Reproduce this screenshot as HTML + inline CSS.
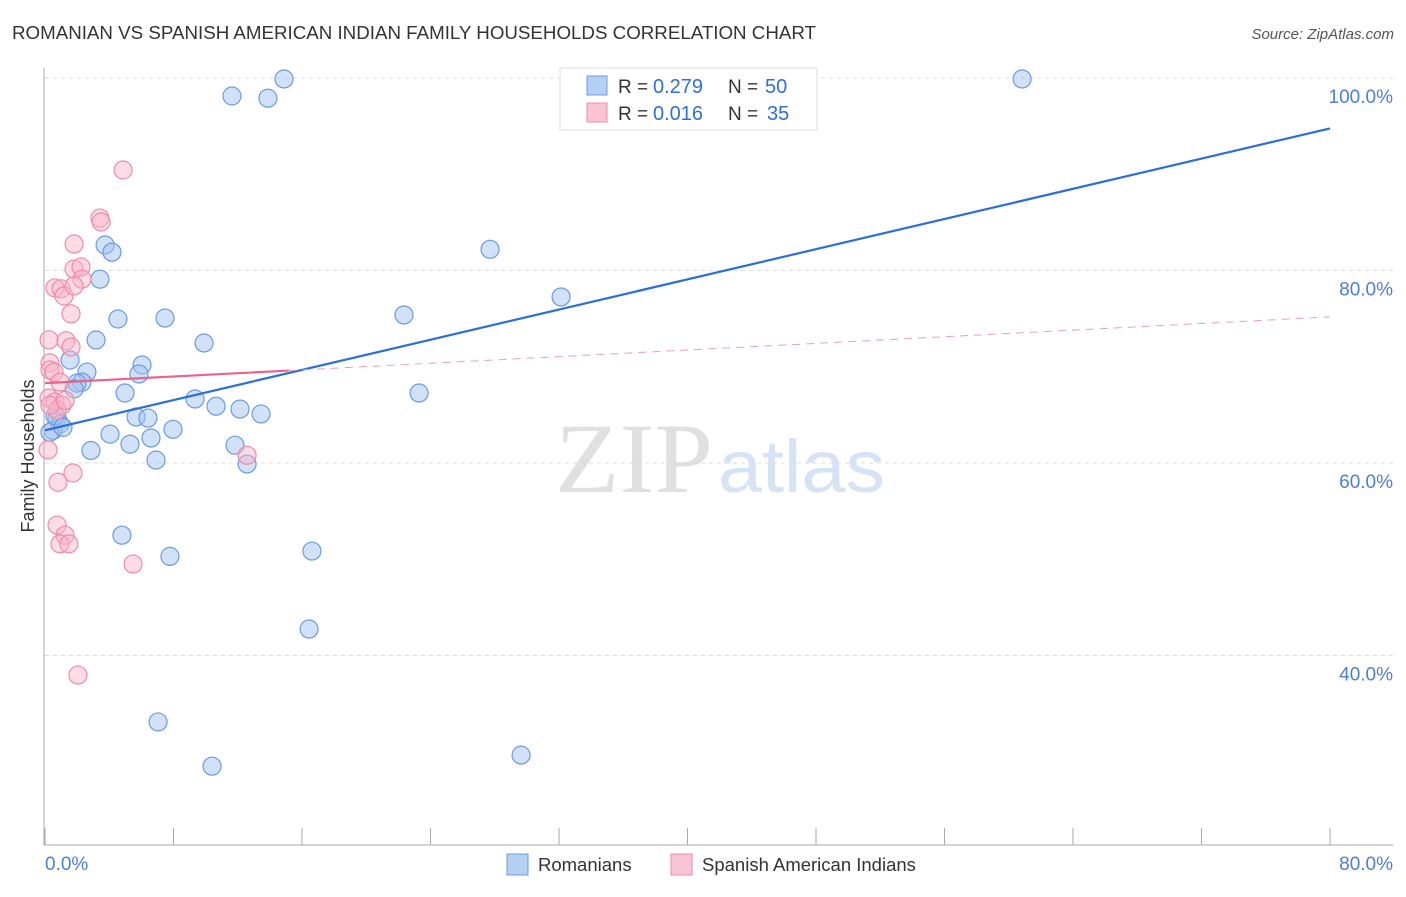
<!DOCTYPE html>
<html><head><meta charset="utf-8"><style>
body{margin:0;background:#fff;font-family:"Liberation Sans",sans-serif;}
svg text{font-family:"Liberation Sans",sans-serif;}
</style></head><body>
<svg id="c" width="1406" height="892" xmlns="http://www.w3.org/2000/svg">
<text x="12" y="39" font-size="18" fill="#333" textLength="804" lengthAdjust="spacingAndGlyphs">ROMANIAN VS SPANISH AMERICAN INDIAN FAMILY HOUSEHOLDS CORRELATION CHART</text>
<text x="1394" y="39" font-size="15" fill="#555" font-style="italic" text-anchor="end">Source: ZipAtlas.com</text>
<text x="555" y="492" font-size="100" fill="#e0e0e0" textLength="158" lengthAdjust="spacingAndGlyphs" style="font-family:'Liberation Serif',serif">ZIP</text>
<text x="718" y="492" font-size="74" fill="#d6e3f5" textLength="167" lengthAdjust="spacingAndGlyphs">atlas</text>
<text transform="translate(34,456) rotate(-90)" font-size="18" fill="#333" text-anchor="middle">Family Households</text>
<g id="grid"></g><g id="marks"></g>
<g>
<rect x="560" y="68" width="257" height="62" fill="#fff" stroke="#ddd"/>
<rect x="587" y="76" width="20" height="19" fill="#b5d0f2" stroke="#6a9be0"/>
<rect x="587" y="103" width="20" height="19" fill="#f9c4d4" stroke="#f08aa8"/>
<text x="618" y="93" font-size="19" fill="#333">R =</text>
<text x="653" y="93" font-size="20" fill="#2f6fd6">0.279</text>
<text x="728" y="93" font-size="19" fill="#333">N =</text>
<text x="765" y="93" font-size="20" fill="#2f6fd6">50</text>
<text x="618" y="120" font-size="19" fill="#333">R =</text>
<text x="653" y="120" font-size="20" fill="#2f6fd6">0.016</text>
<text x="728" y="120" font-size="19" fill="#333">N =</text>
<text x="767" y="120" font-size="20" fill="#2f6fd6">35</text>
</g>
<g>
<rect x="507" y="854" width="21" height="21" fill="#b5d0f2" stroke="#6a9be0"/>
<text x="538" y="871" font-size="18.5" fill="#333">Romanians</text>
<rect x="671" y="854" width="21" height="21" fill="#f9c4d4" stroke="#f08aa8"/>
<text x="702" y="871" font-size="18.5" fill="#333">Spanish American Indians</text>
</g>
</svg>
<script>
const blueX=[14.88,11.64,13.88,60.83,3.74,4.17,27.71,3.42,32.13,4.54,7.47,22.35,3.18,9.90,1.56,6.04,5.85,2.61,2.30,1.99,1.81,4.98,23.29,9.34,10.65,12.14,13.45,5.67,6.41,0.75,0.93,0.50,0.31,7.97,4.05,6.60,5.29,11.83,2.86,6.91,12.58,4.79,7.78,16.62,16.44,7.04,10.40,29.64,0.62,1.12];
const blueY=[99.9,98.13,97.9,99.9,82.65,81.9,82.2,79.1,77.25,74.96,75.06,75.38,72.78,72.47,70.7,70.18,69.25,69.45,68.4,68.3,67.7,67.27,67.27,66.65,65.9,65.6,65.1,64.78,64.67,64.67,64.05,63.4,63.2,63.5,63.0,62.6,61.95,61.85,61.3,60.3,59.9,52.5,50.3,50.85,42.75,33.1,28.5,29.65,64.9,63.7];
const pinkX=[4.86,3.42,3.49,1.81,1.81,2.24,2.30,0.62,1.00,1.18,1.81,1.62,0.25,1.31,1.62,0.31,0.31,0.56,0.93,0.25,0.62,1.06,0.75,0.19,1.74,0.81,0.75,1.25,0.93,1.49,5.48,2.05,12.58,0.31,1.25];
const pinkY=[90.44,85.45,85.04,82.75,80.15,80.36,79.1,78.2,78.1,77.35,78.4,75.5,72.8,72.7,72.05,70.4,69.66,69.45,68.4,66.75,66.34,66.0,65.5,61.35,58.96,58.0,53.55,52.5,51.6,51.6,49.5,37.97,60.8,66.0,66.5];
const blueTrend=[63.4,0.392];
const pinkTrend=[68.3,0.086];
const yTicks=[100,80,60,40];
const xTickLabels=["0.0%","80.0%"];
const NS="http://www.w3.org/2000/svg";
const sx=v=>45+v*1285/80, sy=v=>78+(100-v)*9.625;
function mk(t,a,p){const e=document.createElementNS(NS,t);for(const k in a)e.setAttribute(k,a[k]);p.appendChild(e);return e;}
const g=document.getElementById('grid'), m=document.getElementById('marks');
yTicks.forEach(v=>{
 const l=mk('line',{x1:45,x2:1393,y1:sy(v),y2:sy(v),stroke:'#ddd','stroke-dasharray':'4,4'},g);
 
 
 const t=mk('text',{x:1393,y:sy(v)+25,'font-size':19,fill:'#4a7fd4','text-anchor':'end'},g);
 t.textContent=v.toFixed(1)+'%';
 
 
});
mk('line',{x1:44,x2:44,y1:68,y2:845,stroke:'#aaa'},g);
mk('line',{x1:44,x2:1393,y1:845,y2:845,stroke:'#aaa'},g);
for(let i=0;i<=10;i++){const x=sx(i*8);mk('line',{x1:x,x2:x,y1:828,y2:845,stroke:'#aaa'},g);}
const t0=mk('text',{x:45,y:870,'font-size':19,fill:'#4a7fd4'},g);t0.textContent=xTickLabels[0];


const t1=mk('text',{x:1393,y:870,'font-size':19,fill:'#4a7fd4','text-anchor':'end'},g);t1.textContent=xTickLabels[1];


blueX.forEach((x,i)=>{const c=mk('circle',{cx:sx(x),cy:sy(blueY[i]),r:9,fill:'rgba(164,196,240,0.5)',stroke:'#6a9be0','stroke-width':1.2},m);
 
 });
pinkX.forEach((x,i)=>{const c=mk('circle',{cx:sx(x),cy:sy(pinkY[i]),r:9,fill:'rgba(248,180,200,0.45)',stroke:'#f08aa8','stroke-width':1.2},m);
 
 });
const bl=mk('line',{x1:sx(0),y1:sy(blueTrend[0]),x2:sx(80),y2:sy(blueTrend[0]+80*blueTrend[1]),stroke:'#2a6fd6','stroke-width':2.2},m);


const pmax=Math.max(...pinkX)+2.6;
const pl=mk('line',{x1:sx(0),y1:sy(pinkTrend[0]),x2:sx(pmax),y2:sy(pinkTrend[0]+pmax*pinkTrend[1]),stroke:'#e8648c','stroke-width':2.2},m);


const pd=mk('line',{x1:sx(pmax),y1:sy(pinkTrend[0]+pmax*pinkTrend[1]),x2:sx(80),y2:sy(pinkTrend[0]+80*pinkTrend[1]),stroke:'#e8a0b6','stroke-width':1,'stroke-dasharray':'8,6'},m);


</script>
</body></html>
